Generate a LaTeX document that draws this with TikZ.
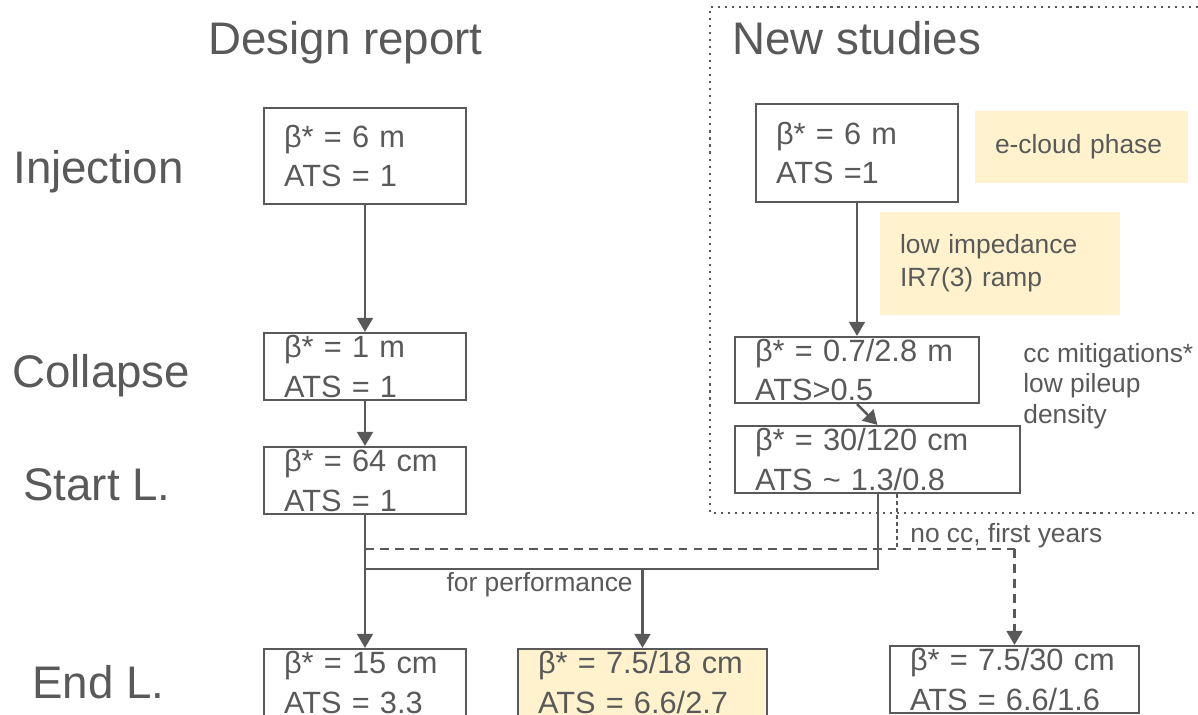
\documentclass[tikz,border=0pt]{standalone}
\usepackage{fontspec}
\setmainfont{Liberation Sans}
\usetikzlibrary{arrows.meta}
\definecolor{dgray}{HTML}{595959}
\definecolor{lyellow}{HTML}{FFF2CC}

\begin{document}
\begin{tikzpicture}[x=0.02cm, y=-0.02cm, >={Triangle[width=9pt,length=8pt]},
    box/.style={draw=dgray, line width=1.2pt, inner xsep=0.4cm, inner ysep=0pt,
        align=left, text=dgray, font=\fontsize{17.5}{22.5}\selectfont},
    note/.style={fill=lyellow, inner xsep=0.4cm, inner ysep=0pt, align=left,
        text=dgray, font=\fontsize{15}{18.7}\selectfont},
    bigtxt/.style={text=dgray, font=\fontsize{26}{30}\selectfont, inner sep=0pt},
    smalltxt/.style={text=dgray, font=\fontsize{15}{17.3}\selectfont, inner sep=0pt, align=left},
    link/.style={draw=dgray, line width=1.4pt}]
    \useasboundingbox (0,0) rectangle (1198,715);

    % Titulos e fases
    \node[bigtxt, anchor=base west] (drtitle) at (208,55) {Design report};
    \node[bigtxt, anchor=base west] (nstitle) at (732,55) {New studies};
    \node[bigtxt, anchor=base west] (injlbl) at (13,184) {Injection};
    \node[bigtxt, anchor=base west] (colllbl) at (12,388) {Collapse};
    \node[bigtxt, anchor=base west] (startlbl) at (23,501) {Start L.};
    \node[bigtxt, anchor=base west] (endlbl) at (32,699) {End L.};

    % Quadro pontilhado
    \draw[dgray, line width=1.2pt, dash pattern=on 1.2pt off 2.8pt]
        (1198,7) -- (710,7) -- (710,513) -- (1198,513);

    % Design report
    \node[box, text width=3.24cm, minimum height=1.92cm] (drinj) at (365,156) {β* = 6 m\\ATS = 1};
    \node[box, text width=3.24cm, minimum height=1.34cm] (drcoll) at (365,366.5) {β* = 1 m\\ATS = 1};
    \node[box, text width=3.24cm, minimum height=1.34cm] (drstart) at (365,480.5) {β* = 64 cm\\ATS = 1};
    \draw[link, ->] (drinj) -- (drcoll);
    \draw[link, ->] (drcoll) -- (drstart);

    % New studies
    \node[box, text width=3.24cm, minimum height=1.96cm] (nsinj) at (857,153) {β* = 6 m\\ATS =1};
    \node[note, text width=3.46cm, minimum height=1.44cm] (ecloud) at (1081.5,147) {e-cloud phase};
    \node[note, text width=4.0cm, minimum height=2.06cm] (lowimp) at (1000,263.5) {low impedance\\IR7(3) ramp};
    \node[box, text width=4.08cm, minimum height=1.32cm] (nscoll) at (857,370) {β* = 0.7/2.8 m\\ATS>0.5};
    \node[smalltxt, anchor=north west] (ccnote) at (1023,343) {cc mitigations*\\low pileup\\density};
    \node[box, text width=4.9cm, minimum height=1.34cm] (nsstart) at (877.5,459.5) {β* = 30/120 cm\\ATS \textasciitilde{} 1.3/0.8};
    \draw[link, ->] (nsinj) -- (nscoll);
    \draw[link, ->] (nscoll.south) -- (nsstart.north);

    % Fim da luminosidade
    \node[box, text width=3.24cm, minimum height=1.34cm] (drend) at (365,682.5) {β* = 15 cm\\ATS = 3.3};
    \node[box, fill=lyellow, text width=4.18cm, minimum height=1.34cm] (perfend) at (642.5,682.5) {β* = 7.5/18 cm\\ATS = 6.6/2.7};
    \node[box, text width=4.18cm, minimum height=1.34cm] (noccend) at (1014.5,679.5) {β* = 7.5/30 cm\\ATS = 6.6/1.6};

    % Ligacoes
    \coordinate (soL) at (365,569);
    \coordinate (soM) at (642.5,569);
    \coordinate (soR) at (878,569);
    \coordinate (daL) at (365,549);
    \coordinate (daS) at (897,549);
    \coordinate (daR) at (1014.5,549);
    \draw[link, ->] (drstart) -- (drend);
    \draw[link] (nsstart.south -| soR) -- (soR) -- (soL);
    \draw[link, ->] (soM) -- (perfend);
    \draw[link, dash pattern=on 5pt off 3.5pt] (daL) -- (daR);
    \draw[link, ->, dash pattern=on 5pt off 3.5pt] (daR) -- (noccend);
    \draw[link, line width=0.8pt, dash pattern=on 2pt off 2pt] (nsstart.south -| daS) -- (daS);
    \node[smalltxt, anchor=north east] (perflbl) at (633,572) {for performance};
    \node[smalltxt, anchor=base west] (nocclbl) at (910,543) {no cc, first years};
\end{tikzpicture}
\end{document}
